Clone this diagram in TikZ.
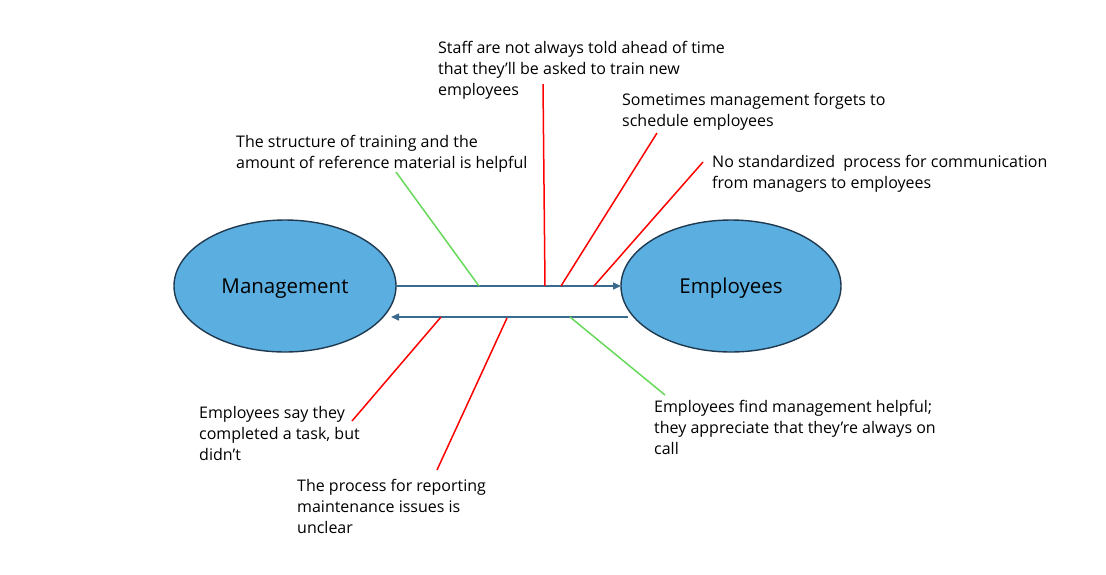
\documentclass[tikz,border=0pt]{standalone}
\usepackage{fontspec}
\setmainfont{Open Sans}
\usetikzlibrary{arrows.meta}
\definecolor{ellfill}{HTML}{5BAEE0}
\definecolor{elldraw}{HTML}{1F3A50}
\definecolor{arrcol}{HTML}{3B6A8F}
\definecolor{gline}{HTML}{66D95A}
\definecolor{rline}{HTML}{FF0000}
\tikzset{
  party/.style={draw=elldraw, line width=1.4pt, fill=ellfill},
  flow/.style={draw=arrcol, line width=1.5pt, -{Triangle[length=8pt,width=7pt]}},
  badline/.style={draw=rline, line width=1.5pt},
  goodline/.style={draw=gline, line width=1.5pt},
  lbl/.style={anchor=base west, inner sep=0pt, align=left, font=\fontsize{16}{20.7}\selectfont},
  big/.style={anchor=base, inner sep=0pt, font=\fontsize{20.5}{24}\selectfont}
}
\begin{document}
\begin{tikzpicture}[x=1pt,y=-1pt]
\useasboundingbox (0,0) rectangle (1106,574);
% parties
\draw[party] (285,286) ellipse [x radius=111, y radius=66];
\draw[party] (731,286) ellipse [x radius=110, y radius=66];
\node[big] (mgmt) at (285,293) {Management};
\node[big] (emp) at (731,293) {Employees};
\coordinate (a1s) at (396,286);
\coordinate (a1e) at (621,286);
\coordinate (a2s) at (628,317);
\coordinate (a2e) at (391,317);
\draw[flow] (a1s) -- (a1e);
\draw[flow] (a2s) -- (a2e);
% connector points
\coordinate (g1a) at (396,172); \coordinate (g1b) at (479,286);
\coordinate (r1a) at (543,84);  \coordinate (r1b) at (545,286);
\coordinate (r2a) at (657,133); \coordinate (r2b) at (561,286);
\coordinate (r3a) at (703,162); \coordinate (r3b) at (594,286);
\coordinate (g2a) at (570,317); \coordinate (g2b) at (665,395);
\coordinate (r4a) at (441,317); \coordinate (r4b) at (352,421);
\coordinate (r5a) at (507,318); \coordinate (r5b) at (437,470);
\draw[goodline] (g1a) -- (g1b);
\draw[badline] (r1a) -- (r1b);
\draw[badline] (r2a) -- (r2b);
\draw[badline] (r3a) -- (r3b);
\draw[goodline] (g2a) -- (g2b);
\draw[badline] (r4a) -- (r4b);
\draw[badline] (r5a) -- (r5b);
% labels (positions give the baseline of the last line)
\node[lbl] (t1) at (438,95) {Staff are not always told ahead of time\\that they’ll be asked to train new\\employees};
\node[lbl] (t2) at (622,126) {Sometimes management forgets to\\schedule employees};
\node[lbl] (t3) at (236,168) {The structure of training and the\\amount of reference material is helpful};
\node[lbl] (t4) at (712,188) {No standardized\ \ process for communication\\from managers to employees};
\node[lbl] (t5) at (199,460) {Employees say they\\completed a task, but\\didn’t};
\node[lbl] (t6) at (297,533) {The process for reporting\\maintenance issues is\\unclear};
\node[lbl] (t7) at (654,454) {Employees find management helpful;\\they appreciate that they’re always on\\call};
\end{tikzpicture}
\end{document}
